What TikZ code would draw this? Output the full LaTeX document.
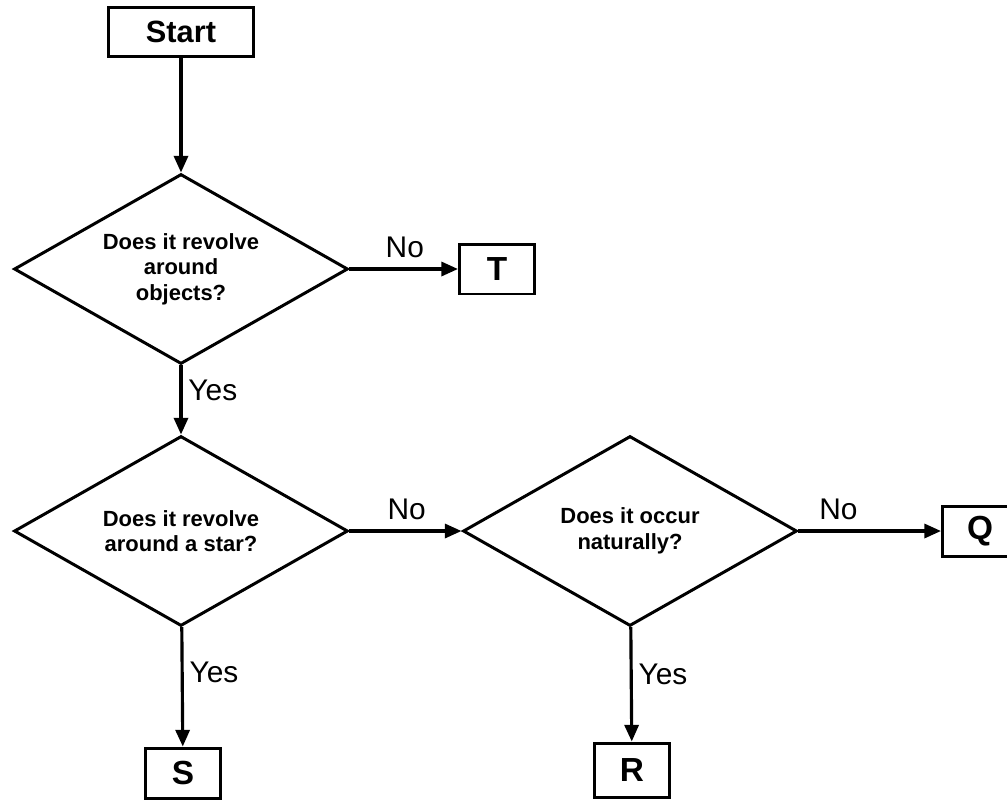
\documentclass[tikz,border=0pt]{standalone}
\usepackage{fontspec}
\setmainfont{Liberation Sans}
\usetikzlibrary{arrows.meta,shapes.geometric}

\begin{document}
\begin{tikzpicture}[x=0.02cm,y=-0.02cm,
  flow/.style={line width=1.8pt,-{Triangle[length=9.5pt,width=8pt]}},
  box/.style={draw,line width=1.7pt,minimum width=1.5cm,minimum height=1cm,inner sep=0pt,font=\fontsize{19}{21}\selectfont\bfseries},
  ask/.style={draw,diamond,aspect=1.76,line width=1.7pt,minimum width=6.68cm,minimum height=3.8cm,inner sep=0pt,align=center,font=\fontsize{12.5}{14.5}\selectfont\bfseries},
  ans/.style={font=\fontsize{17}{19}\selectfont}]
\useasboundingbox (0,0) rectangle (1007,799);
% start and the three questions
\node[box,minimum width=2.9cm,minimum height=0.98cm,font=\fontsize{17.5}{19}\selectfont\bfseries] (start) at (181,32) {Start};
\node[ask] (orbit) at (181,269) {Does it revolve\\around\\objects?};
\node[ask] (star) at (181,531) {Does it revolve\\around a star?};
\node[ask] (nat) at (630,531) {Does it occur\\naturally?};
% the four outcomes
\node[box] (t) at (497,269) {T};
\node[box] (q) at (980,531) {Q};
\node[box] (s) at (183,773) {S};
\node[box,minimum height=1.08cm] (r) at (632,770) {R};
% connectors
\draw[flow] (start) -- (orbit);
\draw[flow] (orbit) -- node[ans,above=2pt,pos=0.51]{No} (t);
\draw[flow] (orbit) -- node[ans,right,pos=0.36]{Yes} (star);
\draw[flow] (star) -- node[ans,above=2pt,pos=0.51]{No} (nat);
\draw[flow] (star) -- node[ans,right,pos=0.38]{Yes} (s);
\draw[flow] (nat) -- node[ans,above=2pt,pos=0.28]{No} (q);
\draw[flow] (nat) -- node[ans,right,pos=0.41]{Yes} (r);
\end{tikzpicture}
\end{document}
